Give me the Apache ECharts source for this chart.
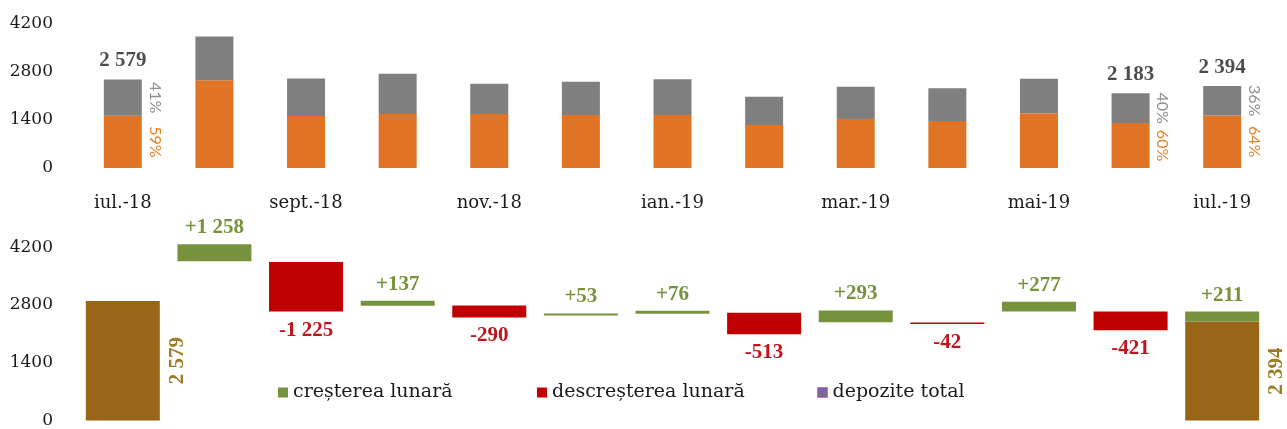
<!DOCTYPE html>
<html>
<head>
<meta charset="utf-8">
<script src="https://cdn.jsdelivr.net/npm/echarts@6/dist/echarts.min.js"></script>
<style>
  html, body { margin: 0; padding: 0; background: #fff; }
  #chart { width: 1287px; height: 429px; }
</style>
</head>
<body>
<div id="chart"></div>
<script>
// luni
const months = ['iul.-18', 'aug.-18', 'sept.-18', 'oct.-18', 'nov.-18', 'dec.-18', 'ian.-19',
  'feb.-19', 'mar.-19', 'apr.-19', 'mai-19', 'iun.-19', 'iul.-19']

// graficul de sus: depozite total si partea portocalie
const totalDeposits = [2579, 3837, 2612, 2749, 2459, 2512, 2588, 2075, 2368, 2326, 2603, 2183, 2394]
const orangePart = [1522, 2560, 1516, 1574, 1574, 1545, 1545, 1254, 1430, 1370, 1600, 1310, 1532]
const shareOrange = [59, null, null, null, null, null, null, null, null, null, null, 60, 64]
const shareGray = [41, null, null, null, null, null, null, null, null, null, null, 40, 36]
const yTicks = [0, 1400, 2800, 4200]

// graficul de jos (cascada)
const changes = [null, 1258, -1225, 137, -290, 53, 76, -513, 293, -42, 277, -421, 211]
const floatBase = [0, 3860, 2640, 2780, 2500, 2545, 2590, 2090, 2380, 2340, 2640, 2190, 0]
const totalBar = [2900, '-', '-', '-', '-', '-', '-', '-', '-', '-', '-', '-', 2400]
const totalLabel = [2579, null, null, null, null, null, null, null, null, null, null, null, 2394]
const riseSize = ['-', 410, '-', 125, '-', 50, 70, '-', 285, '-', 240, '-', 240]
const fallSize = ['-', '-', 1200, '-', 290, '-', '-', 525, '-', 36, '-', 455, '-']

const grayPart = totalDeposits.map((t, i) => t - orangePart[i])
const fmt = v => {
  const s = String(Math.abs(v))
  return s.length > 3 ? s.slice(0, s.length - 3) + ' ' + s.slice(-3) : s
}

const serif = 'DejaVu Serif'
const numFont = 'Liberation Serif'
const axisText = { fontFamily: serif, fontSize: 17, color: '#1a1a1a', formatter: v => String(v) }

const legendItem = (left, item) => ({
  left: left,
  top: 378,
  itemWidth: 10,
  itemHeight: 10,
  textStyle: { fontFamily: serif, fontSize: 19, color: '#1a1a1a' },
  data: [item]
})

const chart = echarts.init(document.getElementById('chart'))
chart.setOption({
  animation: false,
  grid: [
    { left: 77, right: 19, top: 24, bottom: 261 },
    { left: 77, right: 19, top: 239, bottom: 7 }
  ],
  legend: [
    legendItem(273, { name: 'creșterea lunară', icon: 'rect' }),
    legendItem(532, { name: 'descreșterea lunară', icon: 'rect' }),
    legendItem(812, { name: 'depozite total', icon: 'rect',
      itemStyle: { color: '#7F63A8', borderColor: '#C88A4A', borderWidth: 1 } })
  ],
  xAxis: [
    {
      type: 'category', gridIndex: 0, data: months,
      axisLine: { show: false }, axisTick: { show: false },
      axisLabel: { interval: 1, margin: 26, fontSize: 18, fontFamily: serif, color: '#1a1a1a' }
    },
    {
      type: 'category', gridIndex: 1, data: months,
      axisLine: { show: false }, axisTick: { show: false }, axisLabel: { show: false }
    }
  ],
  yAxis: [
    {
      type: 'value', gridIndex: 0, min: yTicks[0], max: yTicks[3], interval: 1400,
      splitLine: { show: false }, axisLine: { show: false }, axisTick: { show: false },
      axisLabel: Object.assign({ margin: 24 }, axisText)
    },
    {
      type: 'value', gridIndex: 1, min: yTicks[0], max: 4400, interval: 1400,
      splitLine: { show: false }, axisLine: { show: false }, axisTick: { show: false },
      axisLabel: Object.assign({ margin: 24, showMaxLabel: false }, axisText)
    }
  ],
  series: [
    // sus
    {
      type: 'bar', xAxisIndex: 0, yAxisIndex: 0, stack: 'top', barWidth: 38,
      data: orangePart, itemStyle: { color: '#E07424' },
      label: {
        show: true, position: 'right', distance: 5, rotate: -90,
        align: 'center', verticalAlign: 'bottom',
        fontFamily: 'Lato', fontSize: 16, color: '#E8802C',
        formatter: p => shareOrange[p.dataIndex] == null ? '' : shareOrange[p.dataIndex] + '%'
      }
    },
    {
      type: 'bar', xAxisIndex: 0, yAxisIndex: 0, stack: 'top', barWidth: 38,
      data: grayPart, itemStyle: { color: '#7F7F7F' },
      label: {
        show: true, position: 'right', distance: 5, rotate: -90,
        align: 'center', verticalAlign: 'bottom',
        fontFamily: 'Lato', fontSize: 16, color: '#8E8E8E',
        formatter: p => shareGray[p.dataIndex] == null ? '' : shareGray[p.dataIndex] + '%'
      }
    },
    {
      type: 'scatter', xAxisIndex: 0, yAxisIndex: 0, symbolSize: 0, silent: true,
      data: totalDeposits.map((t, i) => shareGray[i] == null ? '-' : t),
      label: {
        show: true, position: 'top', distance: 8,
        fontFamily: numFont, fontWeight: 'bold', fontSize: 21, color: '#1f1f1f',
        formatter: p => fmt(p.value)
      }
    },
    // jos
    {
      type: 'bar', xAxisIndex: 1, yAxisIndex: 1, stack: 'wf', barWidth: 74,
      data: floatBase, itemStyle: { color: 'transparent' }, silent: true
    },
    {
      name: 'depozite total',
      type: 'bar', xAxisIndex: 1, yAxisIndex: 1, stack: 'wf', barWidth: 74,
      data: totalBar, itemStyle: { color: '#996519' },
      label: {
        show: true, position: 'right', distance: 7, rotate: 90,
        align: 'center', verticalAlign: 'top',
        fontFamily: numFont, fontWeight: 'bold', fontSize: 21, color: '#9E7A22',
        formatter: p => totalLabel[p.dataIndex] == null ? '' : fmt(totalLabel[p.dataIndex])
      }
    },
    {
      name: 'creșterea lunară',
      type: 'bar', xAxisIndex: 1, yAxisIndex: 1, stack: 'wf', barWidth: 74,
      data: riseSize, itemStyle: { color: '#76923C' },
      label: {
        show: true, position: 'top', distance: 6,
        fontFamily: numFont, fontWeight: 'bold', fontSize: 21, color: '#76923C',
        formatter: p => '+' + fmt(changes[p.dataIndex])
      }
    },
    {
      name: 'descreșterea lunară',
      type: 'bar', xAxisIndex: 1, yAxisIndex: 1, stack: 'wf', barWidth: 74,
      data: fallSize, itemStyle: { color: '#C00000' },
      label: {
        show: true, position: 'bottom', distance: 8,
        fontFamily: numFont, fontWeight: 'bold', fontSize: 21, color: '#C0141B',
        formatter: p => '-' + fmt(changes[p.dataIndex])
      }
    }
  ]
})
</script>
</body>
</html>
